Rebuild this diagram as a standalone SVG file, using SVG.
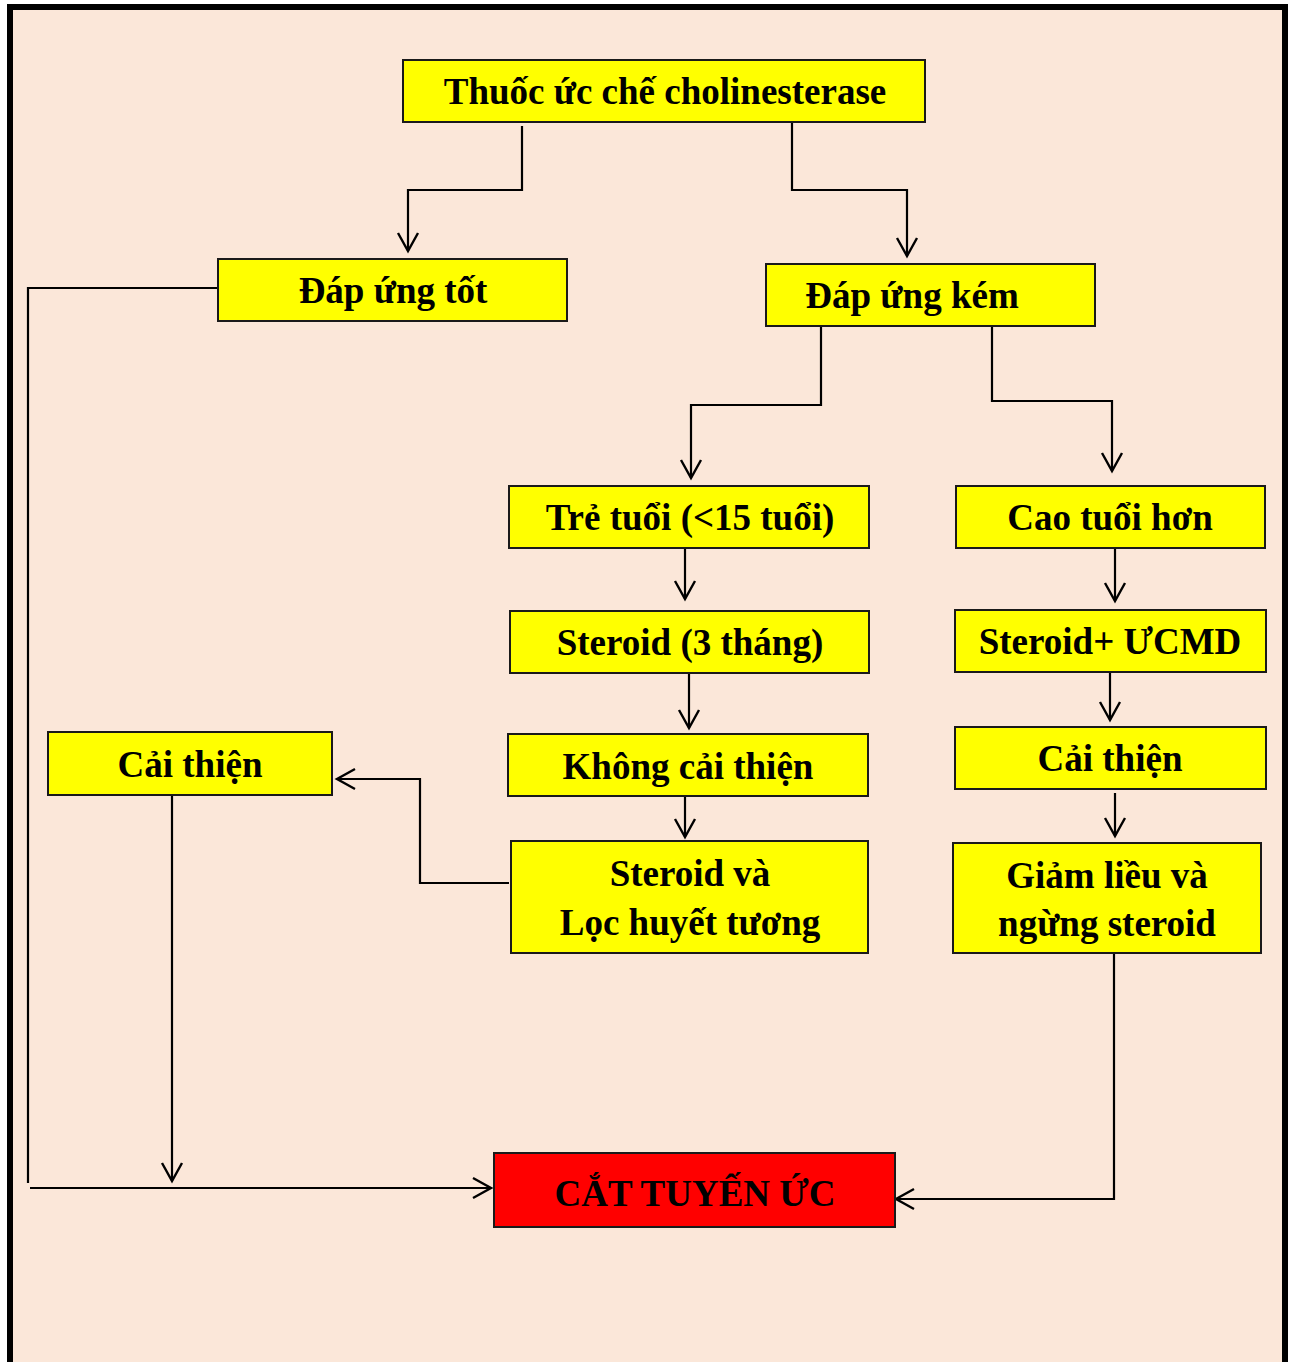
<svg xmlns="http://www.w3.org/2000/svg" width="1293" height="1362" viewBox="0 0 1293 1362">
<defs>
<marker id="arr" viewBox="-2 -2 24 24" refX="19" refY="10" markerWidth="24" markerHeight="24" markerUnits="userSpaceOnUse" orient="auto">
<path d="M1,0 L19,10 L1,20" fill="none" stroke="#000" stroke-width="2.4"/>
</marker>
<style>
.box{fill:#FFFF00;stroke:#1a1a1a;stroke-width:2}
.red{fill:#FF0000;stroke:#1a1a1a;stroke-width:2}
.t{font-family:"Liberation Serif","Times New Roman",serif;font-weight:bold;font-size:37px;fill:#000;text-anchor:middle}
.c{fill:none;stroke:#000;stroke-width:2.2}
.a{marker-end:url(#arr)}
</style>
</defs>
<rect x="0" y="0" width="1293" height="1362" fill="#FFFFFF"/>
<rect x="10" y="7" width="1275" height="1370" fill="#FBE7D9" stroke="#000" stroke-width="6"/>

<g id="connectors">
<polyline class="c a" points="522,126 522,190 408,190 408,251"/>
<polyline class="c a" points="792,122 792,190 907,190 907,256"/>
<polyline class="c a" points="821,326 821,405 691,405 691,478"/>
<polyline class="c a" points="992,326 992,401 1112,401 1112,471"/>
<polyline class="c a" points="685,548 685,599"/>
<polyline class="c a" points="689,673 689,728"/>
<polyline class="c a" points="685,796 685,837"/>
<polyline class="c a" points="1115,548 1115,601"/>
<polyline class="c a" points="1110,672 1110,720"/>
<polyline class="c a" points="1115,793 1115,836"/>
<polyline class="c a" points="509,883 420,883 420,779 337,779"/>
<polyline class="c a" points="172,795 172,1181"/>
<polyline class="c" points="218,288 28,288 28,1183"/>
<polyline class="c a" points="30,1188 491,1188"/>
<polyline class="c a" points="1114,953 1114,1199 896,1199"/>
</g>

<g id="n1"><rect class="box" x="403" y="60" width="522" height="62"/><text class="t" x="665" y="104">Thuốc ức chế cholinesterase</text></g>
<g id="n2"><rect class="box" x="218" y="259" width="349" height="62"/><text class="t" x="393" y="303">Đáp ứng tốt</text></g>
<g id="n3"><rect class="box" x="766" y="264" width="329" height="62"/><text class="t" x="912" y="308">Đáp ứng kém</text></g>
<g id="n4"><rect class="box" x="509" y="486" width="360" height="62"/><text class="t" x="690" y="530">Trẻ tuổi (&lt;15 tuổi)</text></g>
<g id="n5"><rect class="box" x="956" y="486" width="309" height="62"/><text class="t" x="1110" y="530">Cao tuổi hơn</text></g>
<g id="n6"><rect class="box" x="510" y="611" width="359" height="62"/><text class="t" x="690" y="655">Steroid (3 tháng)</text></g>
<g id="n7"><rect class="box" x="955" y="610" width="311" height="62"/><text class="t" x="1110" y="654">Steroid+ ƯCMD</text></g>
<g id="n8"><rect class="box" x="48" y="732" width="284" height="63"/><text class="t" x="190" y="777">Cải thiện</text></g>
<g id="n9"><rect class="box" x="508" y="734" width="360" height="62"/><text class="t" x="688" y="779">Không cải thiện</text></g>
<g id="n10"><rect class="box" x="955" y="727" width="311" height="62"/><text class="t" x="1110" y="771">Cải thiện</text></g>
<g id="n11"><rect class="box" x="511" y="841" width="357" height="112"/><text class="t" x="690" y="886">Steroid và</text><text class="t" x="690" y="935">Lọc huyết tương</text></g>
<g id="n12"><rect class="box" x="953" y="843" width="308" height="110"/><text class="t" x="1107" y="888">Giảm liều và</text><text class="t" x="1107" y="936">ngừng steroid</text></g>
<g id="n13"><rect class="red" x="494" y="1153" width="401" height="74"/><text class="t" x="695" y="1206">CẮT TUYẾN ỨC</text></g>
</svg>
